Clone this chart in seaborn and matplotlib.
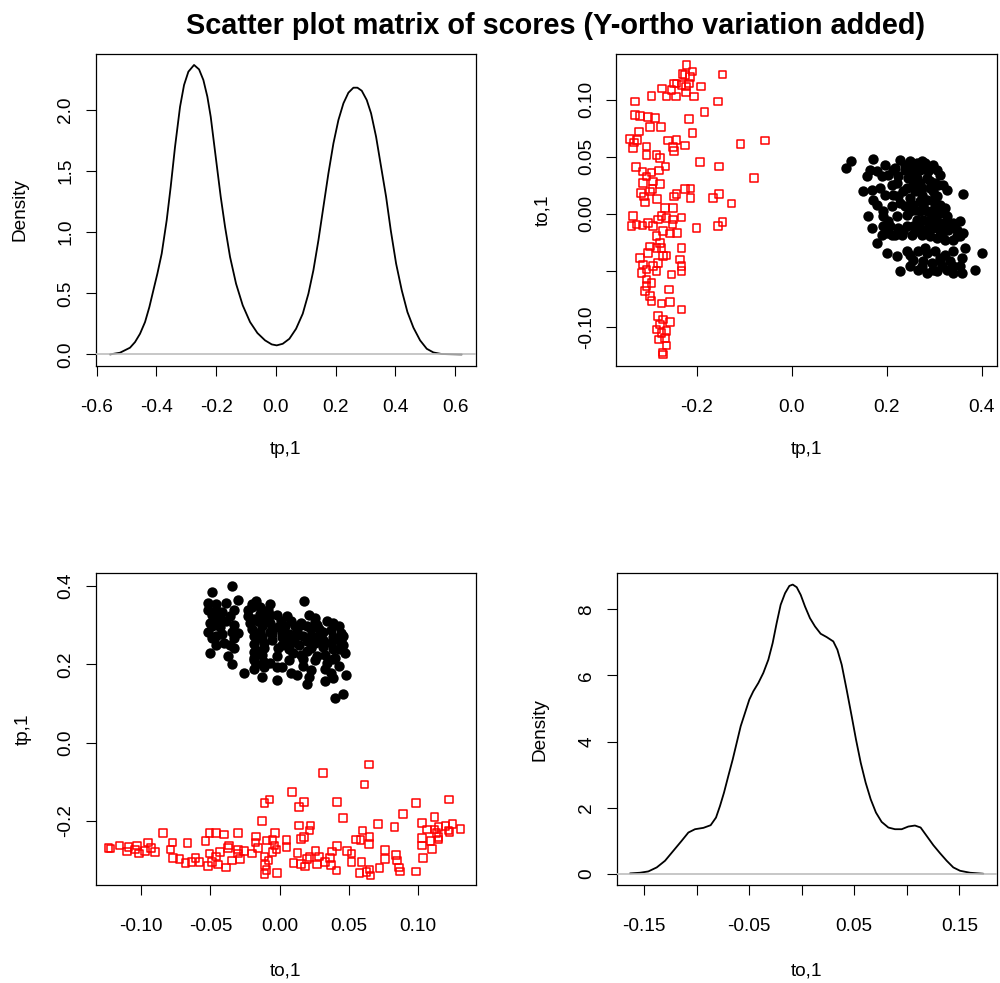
import matplotlib
matplotlib.use("Agg")
import matplotlib.pyplot as plt
import matplotlib.font_manager as fm
import seaborn as sns
import pandas as pd

# ---------------- data ----------------
# Class 1 (black filled circles): predictive score tp,1 and orthogonal score to,1
black_tp = [0.1242, 0.1144, 0.1719, 0.1965, 0.2281, 0.2491, 0.2632, 0.2807, 0.2982, 0.3053,
            0.2175, 0.2386, 0.2561, 0.2702, 0.2877, 0.3123, 0.1649, 0.1579, 0.1789, 0.2035,
            0.2246, 0.2456, 0.2632, 0.2211, 0.2702, 0.2912, 0.3088, 0.3263, 0.3614, 0.1509,
            0.1684, 0.1860, 0.1965, 0.2140, 0.2351, 0.2491, 0.2421, 0.2596, 0.2737, 0.2912,
            0.3053, 0.1789, 0.1930, 0.2105, 0.2281, 0.2386, 0.1930, 0.1614, 0.2211, 0.2421,
            0.2561, 0.2702, 0.2842, 0.2982, 0.3123, 0.3228, 0.2702, 0.2842, 0.2982, 0.3123,
            0.3263, 0.2632, 0.2772, 0.2912, 0.3053, 0.3193, 0.3404, 0.3544, 0.1684, 0.1930,
            0.2070, 0.2246, 0.2421, 0.2561, 0.2702, 0.2842, 0.2982, 0.3123, 0.3298, 0.3474,
            0.3614, 0.1895, 0.2105, 0.2316, 0.2526, 0.2737, 0.2912, 0.3053, 0.3228, 0.3474,
            0.1789, 0.2000, 0.2211, 0.2491, 0.2667, 0.2842, 0.3018, 0.3228, 0.3404, 0.3649,
            0.3579, 0.4000, 0.2281, 0.2491, 0.2667, 0.2842, 0.3053, 0.3263, 0.3404, 0.3579,
            0.2947, 0.3123, 0.3860, 0.2561, 0.2772, 0.3333,
            0.2596, 0.2772, 0.2947, 0.3088, 0.2667, 0.2842, 0.3018, 0.2737, 0.2561, 0.2386,
            0.2632, 0.2842, 0.3018, 0.2246, 0.2105, 0.1895, 0.2351, 0.2175, 0.2000, 0.3158,
            0.3404, 0.3333, 0.3544, 0.3158, 0.2982, 0.2737, 0.3404, 0.3544, 0.2421, 0.2807,
            0.3123, 0.2491, 0.2982, 0.3193, 0.2526, 0.2737, 0.2140, 0.1719, 0.2035, 0.3263]
black_to = [0.0459, 0.0401, 0.0482, 0.0430, 0.0474, 0.0459, 0.0444, 0.0444, 0.0430, 0.0386,
            0.0401, 0.0386, 0.0371, 0.0386, 0.0371, 0.0342, 0.0386, 0.0327, 0.0371, 0.0342,
            0.0327, 0.0313, 0.0313, 0.0269, 0.0269, 0.0284, 0.0254, 0.0211, 0.0173, 0.0196,
            0.0211, 0.0225, 0.0167, 0.0167, 0.0196, 0.0137, 0.0225, 0.0196, 0.0167, 0.0225,
            0.0152, 0.0079, 0.0020, 0.0064, 0.0094, 0.0064, -0.0023, -0.0023, -0.0023, -0.0009,
            0.0079, 0.0108, 0.0123, 0.0108, 0.0079, 0.0050, 0.0020, 0.0020, 0.0035, 0.0006,
            -0.0023, -0.0053, -0.0053, -0.0053, -0.0067, -0.0082, -0.0082, -0.0067, -0.0126, -0.0111,
            -0.0111, -0.0126, -0.0111, -0.0111, -0.0126, -0.0140, -0.0126, -0.0155, -0.0140, -0.0140,
            -0.0170, -0.0184, -0.0184, -0.0184, -0.0184, -0.0184, -0.0199, -0.0213, -0.0228, -0.0199,
            -0.0257, -0.0345, -0.0374, -0.0360, -0.0330, -0.0345, -0.0330, -0.0360, -0.0330, -0.0301,
            -0.0389, -0.0345, -0.0500, -0.0462, -0.0491, -0.0520, -0.0506, -0.0491, -0.0520, -0.0520,
            -0.0433, -0.0418, -0.0491, -0.0404, -0.0418, -0.0418,
            0.0035, 0.0064, -0.0009, -0.0111, -0.0155, -0.0067, 0.0152, 0.0225, 0.0254, 0.0430,
            0.0386, 0.0313, 0.0269, 0.0152, 0.0254, 0.0327, -0.0155, -0.0184, -0.0170, -0.0184,
            -0.0228, -0.0111, -0.0199, -0.0462, -0.0491, -0.0462, -0.0462, -0.0462, -0.0330, -0.0300,
            -0.0389, 0.0020, 0.0196, 0.0254, 0.0444, 0.0459, 0.0386, 0.0123, -0.0067, -0.0067]

# Class 2 (red open squares)
red_tp = [-0.2211, -0.2084, -0.2246, -0.2140, -0.2295, -0.2154, -0.2225, -0.2316, -0.2421, -0.2477,
          -0.2730, -0.2526, -0.2632, -0.2435, -0.2225, -0.2056, -0.1902, -0.1453, -0.2947, -0.3298,
          -0.1544, -0.1832, -0.2154, -0.2084, -0.3298, -0.3193, -0.3018, -0.2877, -0.3207, -0.2982,
          -0.2744, -0.3404, -0.3319, -0.3249, -0.3333, -0.3053, -0.3053, -0.2842, -0.2772, -0.2596,
          -0.2421, -0.2491, -0.2477, -0.2246, -0.1074, -0.0561, -0.1930, -0.1523, -0.0786, -0.2653,
          -0.3277, -0.3137, -0.2947, -0.3053, -0.2786, -0.3123, -0.2912, -0.2772, -0.3088, -0.2982,
          -0.2926, -0.3109, -0.3172, -0.2828, -0.2667, -0.2491, -0.2316, -0.2470, -0.2421, -0.2246,
          -0.2126, -0.2126, -0.1649, -0.1523, -0.1263, -0.2000, -0.1544, -0.1453, -0.3333, -0.3368,
          -0.3263, -0.3137, -0.3018, -0.2912, -0.2807, -0.2737, -0.2632, -0.2491, -0.2561, -0.2702,
          -0.2407, -0.2505, -0.2842, -0.2772, -0.2982, -0.2842, -0.2737, -0.2702, -0.2632, -0.3018,
          -0.3193, -0.3123, -0.3053, -0.3158, -0.2912, -0.2807, -0.2842, -0.2316, -0.2351, -0.2316,
          -0.2316, -0.2526, -0.3053, -0.2947, -0.3053, -0.3088, -0.2982, -0.2947, -0.2737, -0.2561,
          -0.2575, -0.2316, -0.2807, -0.2702, -0.2772, -0.2561, -0.2842, -0.2737, -0.2632, -0.2786,
          -0.2667, -0.2632, -0.2716, -0.2702]
red_to = [0.1307, 0.1249, 0.1219, 0.1199, 0.1228, 0.1146, 0.1117, 0.1132, 0.1146, 0.1146,
          0.1102, 0.1088, 0.1029, 0.1029, 0.1064, 0.1029, 0.1117, 0.1225, 0.1035, 0.0985,
          0.0985, 0.0892, 0.0830, 0.0708, 0.0868, 0.0860, 0.0848, 0.0839, 0.0722, 0.0760,
          0.0760, 0.0655, 0.0626, 0.0649, 0.0576, 0.0591, 0.0518, 0.0518, 0.0488, 0.0643,
          0.0649, 0.0585, 0.0553, 0.0599, 0.0614, 0.0643, 0.0456, 0.0415, 0.0313, 0.0415,
          0.0409, 0.0371, 0.0363, 0.0327, 0.0380, 0.0269, 0.0284, 0.0260, 0.0099, 0.0196,
          0.0216, 0.0152, 0.0181, 0.0129, 0.0050, 0.0050, -0.0032, 0.0152, 0.0175, 0.0216,
          0.0222, 0.0140, 0.0140, 0.0175, 0.0088, -0.0126, -0.0111, -0.0073, -0.0018, -0.0111,
          -0.0096, -0.0105, -0.0082, -0.0111, -0.0053, -0.0023, -0.0038, -0.0053, -0.0175, -0.0155,
          -0.0170, -0.0096, -0.0199, -0.0257, -0.0287, -0.0301, -0.0301, -0.0374, -0.0368, -0.0345,
          -0.0389, -0.0447, -0.0491, -0.0520, -0.0462, -0.0433, -0.0506, -0.0301, -0.0404, -0.0462,
          -0.0506, -0.0535, -0.0579, -0.0608, -0.0637, -0.0681, -0.0725, -0.0769, -0.0789, -0.0775,
          -0.0667, -0.0842, -0.0901, -0.0930, -0.0974, -0.0953, -0.1018, -0.1047, -0.1032, -0.1105,
          -0.1091, -0.1158, -0.1222, -0.1237]

# Density of tp,1
dens_tp_x = [-0.5553, -0.5219, -0.4884, -0.4716, -0.4549, -0.4381, -0.4236, -0.4102, -0.3968, -0.3823,
             -0.3656, -0.3522, -0.3377, -0.3209, -0.3075, -0.2930, -0.2740, -0.2573, -0.2428, -0.2294,
             -0.2182, -0.2071, -0.1959, -0.1847, -0.1702, -0.1535, -0.1334, -0.1111, -0.0865, -0.0619,
             -0.0363, -0.0139, 0.0028, 0.0229, 0.0452, 0.0676, 0.0899, 0.1089, 0.1256, 0.1424,
             0.1591, 0.1758, 0.1926, 0.2093, 0.2261, 0.2428, 0.2596, 0.2730, 0.2875, 0.3042,
             0.3187, 0.3355, 0.3522, 0.3690, 0.3846, 0.4025, 0.4214, 0.4404, 0.4605, 0.4828,
             0.5052, 0.5275, 0.5554, 0.6224]
dens_tp_y = [0.000, 0.014, 0.055, 0.101, 0.169, 0.265, 0.388, 0.525, 0.661, 0.825,
             1.098, 1.372, 1.699, 2.027, 2.205, 2.314, 2.369, 2.333, 2.246, 2.109,
             1.945, 1.727, 1.508, 1.290, 1.044, 0.798, 0.579, 0.402, 0.265, 0.175,
             0.115, 0.082, 0.074, 0.087, 0.128, 0.210, 0.333, 0.497, 0.689, 0.934,
             1.208, 1.481, 1.727, 1.918, 2.055, 2.142, 2.183, 2.183, 2.158, 2.082,
             1.973, 1.781, 1.536, 1.290, 1.016, 0.743, 0.525, 0.347, 0.219, 0.115,
             0.046, 0.016, 0.003, 0.000]

# Density of to,1
dens_to_x = [-0.1633, -0.1538, -0.1459, -0.1379, -0.1300, -0.1221, -0.1142, -0.1078, -0.1015, -0.0935,
             -0.0866, -0.0815, -0.0777, -0.0739, -0.0698, -0.0656, -0.0618, -0.0580, -0.0539, -0.0498,
             -0.0460, -0.0412, -0.0365, -0.0317, -0.0276, -0.0238, -0.0200, -0.0158, -0.0117, -0.0085,
             -0.0047, -0.0009, 0.0032, 0.0079, 0.0127, 0.0181, 0.0238, 0.0301, 0.0340, 0.0381,
             0.0428, 0.0476, 0.0517, 0.0562, 0.0609, 0.0657, 0.0707, 0.0761, 0.0825, 0.0888,
             0.0952, 0.1015, 0.1078, 0.1132, 0.1189, 0.1253, 0.1316, 0.1380, 0.1443, 0.1507,
             0.1602, 0.1729]
dens_to_y = [0.020, 0.040, 0.080, 0.201, 0.402, 0.703, 1.004, 1.255, 1.355, 1.396,
             1.476, 1.707, 2.058, 2.460, 2.962, 3.464, 3.966, 4.468, 4.869, 5.271,
             5.522, 5.773, 6.074, 6.476, 6.978, 7.580, 8.133, 8.484, 8.705, 8.745,
             8.665, 8.434, 8.082, 7.731, 7.480, 7.259, 7.159, 7.028, 6.777, 6.325,
             5.572, 4.769, 4.066, 3.364, 2.761, 2.259, 1.858, 1.576, 1.406, 1.355,
             1.355, 1.436, 1.466, 1.406, 1.155, 0.873, 0.633, 0.402, 0.201, 0.100,
             0.040, 0.010]

title = "Scatter plot matrix of scores (Y-ortho variation added)"

black_df = pd.DataFrame({"tp": black_tp, "to": black_to})
red_df = pd.DataFrame({"tp": red_tp, "to": red_to})
dtp = pd.DataFrame({"x": dens_tp_x, "y": dens_tp_y})
dto = pd.DataFrame({"x": dens_to_x, "y": dens_to_y})

# ---------------- styling ----------------
sns.set_theme(style="ticks")
plt.rcParams['font.family'] = ['Liberation Sans', 'DejaVu Sans']
FS = 13.7

fig = plt.figure(figsize=(10, 9.83), dpi=100)
ax_tl = fig.add_axes([0.0957, 0.6277, 0.3803, 0.3174])
ax_tr = fig.add_axes([0.6163, 0.6277, 0.3804, 0.3174])
ax_bl = fig.add_axes([0.0957, 0.0992, 0.3803, 0.3176])
ax_br = fig.add_axes([0.6167, 0.0992, 0.3800, 0.3176])


def style(ax, xticks, xlabels, yticks, ylabels, xlim, ylim, xlabel, ylabel, xlab_y, ylab_x):
    ax.set_xlim(xlim)
    ax.set_ylim(ylim)
    ax.set_xticks(xticks)
    ax.set_xticklabels(xlabels)
    ax.set_yticks(yticks)
    ax.set_yticklabels(ylabels, rotation=90, va='center')
    ax.tick_params(axis='both', direction='out', length=7.5, width=0.8,
                   labelsize=FS, color='black', labelcolor='black')
    ax.tick_params(axis='x', pad=16)
    ax.tick_params(axis='y', pad=8)
    for s in ax.spines.values():
        s.set_visible(True)
        s.set_linewidth(0.9)
        s.set_color('black')
    ax.set_xlabel(xlabel, fontsize=FS, color='black')
    ax.set_ylabel(ylabel, fontsize=FS, color='black')
    ax.xaxis.set_label_coords(0.5, xlab_y)
    ax.xaxis.label.set_va('center')
    ax.yaxis.set_label_coords(ylab_x, 0.5)
    ax.yaxis.label.set_va('center')
    ax.grid(False)


def scatter_pair(ax, x, y):
    sns.scatterplot(data=black_df, x=x, y=y, color="black", marker="o", s=56,
                    linewidth=0, ax=ax)
    sns.scatterplot(data=red_df, x=x, y=y, marker="s", s=30, facecolor="none",
                    edgecolor="#FF0000", linewidth=1.1, ax=ax)


# Top-left: density of tp,1
sns.lineplot(data=dtp, x="x", y="y", sort=False, color="black", lw=1.3, ax=ax_tl)
ax_tl.axhline(0, color="#BEBEBE", lw=1.2, zorder=5)
style(ax_tl, [-0.6, -0.4, -0.2, 0.0, 0.2, 0.4, 0.6],
      ["-0.6", "-0.4", "-0.2", "0.0", "0.2", "0.4", "0.6"],
      [0.0, 0.5, 1.0, 1.5, 2.0], ["0.0", "0.5", "1.0", "1.5", "2.0"],
      (-0.6033, 0.670), (-0.0946, 2.459), "tp,1", "Density", -0.269, -0.199)

# Top-right: tp,1 vs to,1
scatter_pair(ax_tr, "tp", "to")
style(ax_tr, [-0.2, 0.0, 0.2, 0.4], ["-0.2", "0.0", "0.2", "0.4"],
      [-0.10, -0.05, 0.0, 0.05, 0.10], ["-0.10", "", "0.00", "0.05", "0.10"],
      (-0.369, 0.4316), (-0.1339, 0.1404), "tp,1", "to,1", -0.269, -0.1935)

# Bottom-left: to,1 vs tp,1
scatter_pair(ax_bl, "to", "tp")
style(ax_bl, [-0.10, -0.05, 0.0, 0.05, 0.10], ["-0.10", "-0.05", "0.00", "0.05", "0.10"],
      [-0.2, 0.0, 0.2, 0.4], ["-0.2", "0.0", "0.2", "0.4"],
      (-0.1329, 0.1418), (-0.3658, 0.4333), "to,1", "tp,1", -0.275, -0.19)

# Bottom-right: density of to,1
sns.lineplot(data=dto, x="x", y="y", sort=False, color="black", lw=1.3, ax=ax_br)
ax_br.axhline(0, color="#BEBEBE", lw=1.2, zorder=5)
style(ax_br, [-0.15, -0.10, -0.05, 0.0, 0.05, 0.10, 0.15],
      ["-0.15", "", "-0.05", "", "0.05", "", "0.15"],
      [0, 2, 4, 6, 8], ["0", "2", "4", "6", "8"],
      (-0.176, 0.1856), (-0.345, 9.086), "to,1", "Density", -0.275, -0.202)

fig.text(0.556, 1 - 33.5 / 983, title, ha="center", va="baseline",
         fontsize=20.8, fontweight="bold", color="black")

fig.savefig("out.png", dpi=100, facecolor="white")
